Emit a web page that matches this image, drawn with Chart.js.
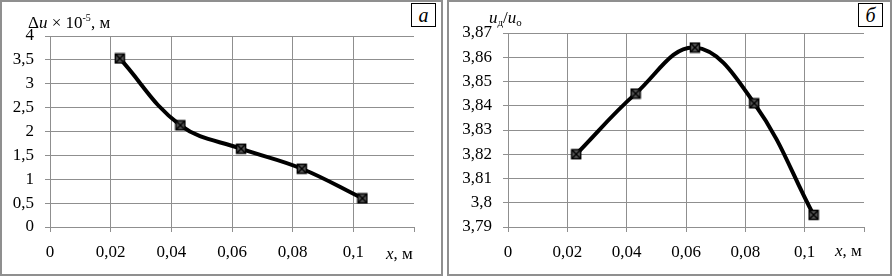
<!DOCTYPE html>
<html><head><meta charset="utf-8">
<script src="https://cdn.jsdelivr.net/npm/chart.js@4"></script>
<style>
body{margin:0;background:#fff;width:893px;height:278px;overflow:hidden;position:relative;font-family:"Liberation Serif","Times New Roman",serif;color:#000;}
.panel{position:absolute;top:0;height:272px;border:2px solid #8f8f8f;}
canvas{position:absolute;top:0;}
.t{position:absolute;font-size:17px;line-height:18px;white-space:nowrap;}
.box{position:absolute;border:1px solid #000;width:23px;height:22px;text-align:center;font-size:20px;line-height:22px;font-style:italic;background:#fff;}
sup{font-size:10px;vertical-align:7px;line-height:0;}
sub{font-size:11px;vertical-align:-3px;line-height:0;}
</style></head>
<body>
<div class="panel" style="left:0;width:439px;"></div>
<div class="panel" style="left:447px;width:441px;"></div>
<canvas id="ca" width="445" height="278" style="left:0"></canvas>
<canvas id="cb" width="446" height="278" style="left:447px"></canvas>
<div class="t" style="left:28px;top:14px;">Δ<i>u</i> × 10<sup>-5</sup>, м</div>
<div class="t" style="left:489px;top:9px;"><i>u</i><sub>д</sub>/<i>u</i><sub>о</sub></div>
<div class="t" style="left:386px;top:245px;"><i>x</i>, м</div>
<div class="t" style="left:835px;top:242px;"><i>x</i>, м</div>
<div class="box" style="left:411px;top:3px;">a</div>
<div class="box" style="left:858px;top:3px;">б</div>
<script>
// ---- data ----
const xPositions = [0.023, 0.043, 0.063, 0.083, 0.103];
const displacement = [3.53, 2.13, 1.64, 1.22, 0.60];   // Δu ×10^-5, м
const velocityRatio = [3.820, 3.845, 3.864, 3.841, 3.795]; // uд/uо
const xTickValues = [0, 0.02, 0.04, 0.06, 0.08, 0.1, 0.12];
const xTickLabels = ["0", "0,02", "0,04", "0,06", "0,08", "0,1", ""];
const yTickValuesA = [0, 0.5, 1, 1.5, 2, 2.5, 3, 3.5, 4];
const yTickLabelsA = ["0", "0,5", "1", "1,5", "2", "2,5", "3", "3,5", "4"];
const yTickValuesB = [3.79, 3.80, 3.81, 3.82, 3.83, 3.84, 3.85, 3.86, 3.87];
const yTickLabelsB = ["3,79", "3,8", "3,81", "3,82", "3,83", "3,84", "3,85", "3,86", "3,87"];

// marker: square with diagonal cross
function makeMarker(){
  const c = document.createElement('canvas');
  c.width = 12; c.height = 12;
  const g = c.getContext('2d');
  g.fillStyle = '#5a5a5a';
  g.fillRect(1,1,10,10);
  g.strokeStyle = '#000'; g.lineWidth = 1.5;
  g.strokeRect(1.5,1.5,9,9);
  g.beginPath(); g.moveTo(2,2); g.lineTo(10,10); g.moveTo(10,2); g.lineTo(2,10); g.stroke();
  return c;
}
const marker = makeMarker();
const GRID = '#8f8f8f';
const FONT = {family: '"Liberation Serif", "Times New Roman", serif', size: 17};

function build(id, xs, ys, yVals, yLabs, area, canvasW){
  const data = xs.map((x,i)=>({x:x, y:ys[i]}));
  new Chart(document.getElementById(id), {
    type: 'line',
    data: {datasets: [{
      data: data, borderColor: '#000', borderWidth: 4, tension: 0.4,
      pointStyle: marker, pointRadius: 6, pointHoverRadius: 6, fill: false
    }]},
    options: {
      responsive: false, animation: false, devicePixelRatio: 1,
      layout: {padding: {left: 0, top: area.top, right: canvasW - area.right, bottom: 0}},
      plugins: {legend: {display: false}, tooltip: {enabled: false}},
      scales: {
        x: {
          type: 'linear', min: 0, max: 0.12,
          afterBuildTicks: s => { s.ticks = xTickValues.map(v => ({value: v})); },
          afterFit: s => { s.height = 278 - area.bottom; },
          ticks: {font: FONT, color: '#000', padding: 10, maxRotation: 0, autoSkip: false,
                  callback: (v, i) => xTickLabels[i]},
          grid: {color: c => (c.index === xTickValues.length - 1 ? 'rgba(0,0,0,0)' : GRID),
                 tickColor: GRID, tickLength: 5, lineWidth: 1},
          border: {color: GRID, width: 1}
        },
        y: {
          type: 'linear', min: yVals[0], max: yVals[yVals.length - 1],
          afterBuildTicks: s => { s.ticks = yVals.map(v => ({value: v})); },
          afterFit: s => { s.width = area.left; },
          ticks: {font: FONT, color: '#000', padding: 11, autoSkip: false,
                  callback: (v, i) => yLabs[i]},
          grid: {color: GRID, tickColor: GRID, tickLength: 5, lineWidth: 1},
          border: {color: GRID, width: 1}
        }
      }
    }
  });
}
build('ca', xPositions, displacement, yTickValuesA, yTickLabelsA, {left: 50, right: 414, top: 36, bottom: 227}, 445);
build('cb', xPositions, velocityRatio, yTickValuesB, yTickLabelsB, {left: 61, right: 417, top: 33, bottom: 227}, 446);
</script>
</body></html>
